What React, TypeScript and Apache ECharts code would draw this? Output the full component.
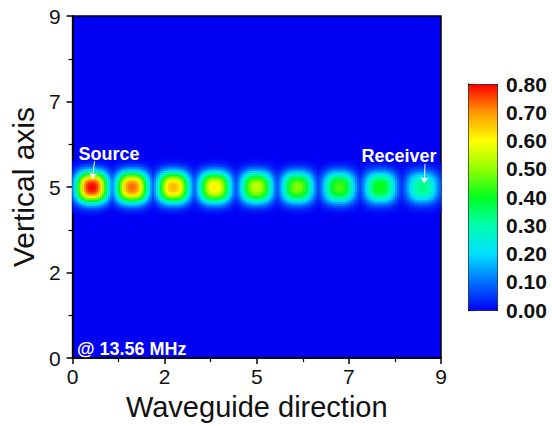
import React, { useEffect, useRef } from "react";
import * as echarts from "echarts";

// Spot (field maximum) positions along the waveguide and their peak magnitudes
const spotX = [0.48, 1.46, 2.47, 3.48, 4.5, 5.5, 6.52, 7.52, 8.55];
const spotPeak = [0.8, 0.73, 0.67, 0.61, 0.54, 0.49, 0.45, 0.41, 0.33];
const spotCenterY = 4.5;
const spotWidthX = 0.385;
const spotWidthY = 0.41;
const spotPower = 2.6;

// axes
const axisMin = 0;
const axisMax = 9;
const axisInterval = 2.25;
const colorbarMin = 0;
const colorbarMax = 0.8;
const colorbarInterval = 0.1;
const jetColors = [
  "#0000F5",
  "#0070FF",
  "#00DFFF",
  "#00FFB0",
  "#00FF20",
  "#90FF00",
  "#FFFF00",
  "#FF9900",
  "#FF0000",
];

// annotations
const annotations = [
  { text: "Source", arrow: [[0.535, 5.18], [0.487, 4.72]] },
  { text: "Receiver", arrow: [[8.61, 5.11], [8.59, 4.6]] },
];

const NX = 185;
const NY = 175;
const FONT = 'Arial, "Liberation Sans", sans-serif';

function buildField() {
  const data: number[][] = [];
  for (let j = 0; j < NY; j++) {
    const y = ((j + 0.5) * (axisMax - axisMin)) / NY;
    if (Math.abs(y - spotCenterY) > 1.2) continue;
    for (let i = 0; i < NX; i++) {
      const x = ((i + 0.5) * (axisMax - axisMin)) / NX;
      let v = 0;
      for (let k = 0; k < spotX.length; k++) {
        const d =
          Math.pow(Math.abs(x - spotX[k]) / spotWidthX, spotPower) +
          Math.pow(Math.abs(y - spotCenterY) / spotWidthY, spotPower);
        v = Math.max(v, spotPeak[k] * Math.exp(-d));
      }
      if (v > 0.003) data.push([i, j, v]);
    }
  }
  return data;
}

export default function App() {
  const ref = useRef<HTMLDivElement>(null);
  useEffect(() => {
    if (!ref.current) return;
    const chart = echarts.init(ref.current, undefined, { renderer: "svg" });
    const xCats = Array.from({ length: NX }, (_, i) => String(i));
    const yCats = Array.from({ length: NY }, (_, i) => String(i));
    const black = "#000";
    const tickLabel = { fontSize: 21, color: "#111", fontFamily: FONT };
    const whiteText = { fill: "#fff", fontSize: 18, fontWeight: "bold", fontFamily: FONT, verticalAlign: "middle" };

    chart.setOption({
      animation: false,
      grid: [
        {
          left: 71,
          top: 16,
          width: 370,
          height: 350,
          show: true,
          backgroundColor: jetColors[0],
          borderColor: black,
          borderWidth: 1.5,
        },
        { left: 468, top: 84, width: 29, height: 226, show: false },
      ],
      xAxis: [
        { type: "category", gridIndex: 0, data: xCats, show: false, position: "top" },
        {
          type: "value",
          gridIndex: 0,
          position: "bottom",
          min: axisMin,
          max: axisMax,
          interval: axisInterval,
          axisLine: { show: true, onZero: false, lineStyle: { color: black, width: 1.5 } },
          axisTick: { show: true, inside: false, length: 6, lineStyle: { color: black, width: 1.5 } },
          minorTick: { show: true, splitNumber: 2, length: 4, lineStyle: { color: black, width: 1.2 } },
          splitLine: { show: false },
          axisLabel: { ...tickLabel, margin: 8, formatter: (v: number) => String(Math.round(v)) },
          name: "Waveguide direction",
          nameLocation: "middle",
          nameGap: 19,
          nameTextStyle: { fontSize: 29, color: "#111", fontFamily: FONT, verticalAlign: "top" },
        },
        { type: "value", gridIndex: 1, show: false, min: 0, max: 1 },
      ],
      yAxis: [
        { type: "category", gridIndex: 0, data: yCats, show: false, position: "right" },
        {
          type: "value",
          gridIndex: 0,
          position: "left",
          min: axisMin,
          max: axisMax,
          interval: axisInterval,
          axisLine: { show: true, onZero: false, lineStyle: { color: black, width: 1.5 } },
          axisTick: { show: true, inside: false, length: 6, lineStyle: { color: black, width: 1.5 } },
          minorTick: { show: true, splitNumber: 2, length: 4, lineStyle: { color: black, width: 1.2 } },
          splitLine: { show: false },
          axisLabel: { ...tickLabel, margin: 12, formatter: (v: number) => String(Math.round(v)) },
          name: "Vertical axis",
          nameLocation: "middle",
          nameGap: 31,
          nameTextStyle: { fontSize: 30, color: "#111", fontFamily: FONT },
        },
        {
          type: "value",
          gridIndex: 1,
          position: "right",
          min: colorbarMin,
          max: colorbarMax,
          interval: colorbarInterval,
          axisLine: { show: true, lineStyle: { color: black, width: 1 } },
          axisTick: { show: true, inside: false, length: 8, lineStyle: { color: black, width: 1.2 } },
          splitLine: { show: false },
          axisLabel: {
            fontSize: 21,
            fontWeight: "bold",
            color: "#111",
            fontFamily: FONT,
            margin: 9,
            formatter: (v: number) => v.toFixed(2),
          },
        },
      ],
      visualMap: {
        type: "continuous",
        seriesIndex: 0,
        dimension: 2,
        min: colorbarMin,
        max: colorbarMax,
        show: true,
        calculable: false,
        hoverLink: false,
        left: 468,
        top: 84,
        itemWidth: 29,
        itemHeight: 226,
        padding: 0,
        borderColor: black,
        borderWidth: 1,
        inRange: { color: jetColors },
      },
      series: [
        {
          type: "heatmap",
          xAxisIndex: 0,
          yAxisIndex: 0,
          data: buildField(),
          progressive: 0,
          emphasis: { disabled: true },
        },
        {
          type: "lines",
          coordinateSystem: "cartesian2d",
          xAxisIndex: 1,
          yAxisIndex: 1,
          z: 50,
          symbol: ["none", "arrow"],
          symbolSize: 6,
          lineStyle: { color: "#fff", width: 1, opacity: 1 },
          data: annotations.map((a) => ({ coords: a.arrow })),
        },
      ],
      graphic: [
        {
          type: "text",
          z: 100,
          x: 109,
          y: 154,
          style: { ...whiteText, text: annotations[0].text, align: "center" },
        },
        {
          type: "text",
          z: 100,
          x: 399,
          y: 156,
          style: { ...whiteText, text: annotations[1].text, align: "center" },
        },
        {
          type: "text",
          z: 100,
          x: 77,
          y: 349,
          style: { ...whiteText, text: "@ 13.56 MHz", align: "left" },
        },
      ],
    });
    return () => chart.dispose();
  }, []);
  return (
    <div
      ref={ref}
      style={{ position: "absolute", left: 0, top: 0, width: 552, height: 426, background: "#fff" }}
    />
  );
}
